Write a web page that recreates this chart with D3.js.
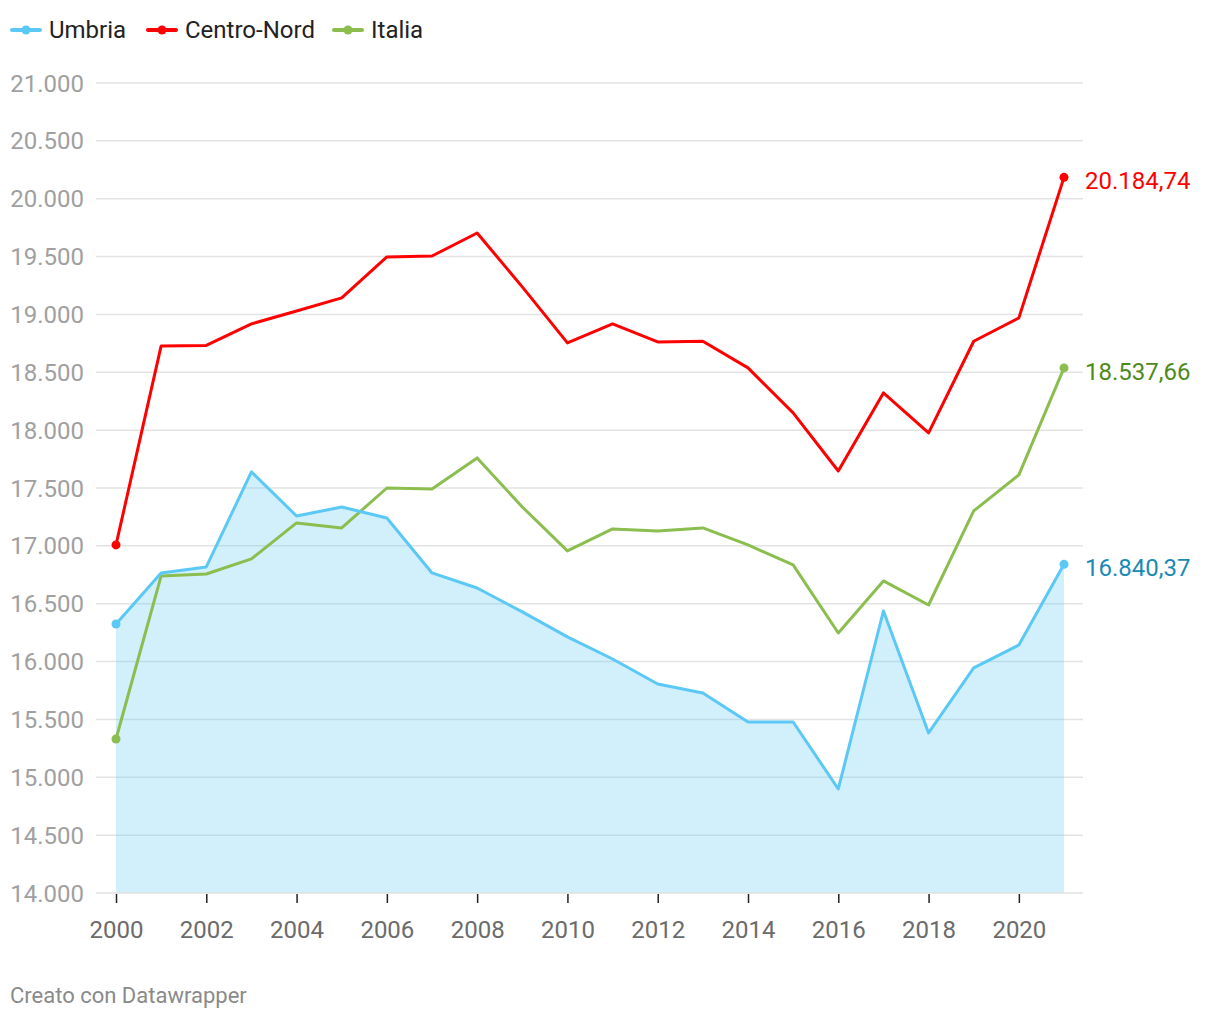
<!DOCTYPE html>
<html><head><meta charset="utf-8">
<script src="https://cdn.jsdelivr.net/npm/d3@7"></script>
<style>
html,body{margin:0;padding:0;background:#fff;}
svg{display:block;font-family:Roboto,"Noto Sans",sans-serif;}
</style></head>
<body>
<svg id="chart" width="1220" height="1020"></svg>
<script>
const years = d3.range(2000, 2022);
const umbria = [16325,16766,16818,17639,17258,17336,17241,16766,16636,16429,16213,16022,15806,15729,15478,15478,14899,16437,15383,15945,16143,16840.37];
const centroNord = [17008,18728,18732,18918,19030,19143,19497,19505,19704,19238,18754,18918,18762,18768,18538,18149,17647,18322,17976,18768,18970,20184.74];
const italia = [15331,16740,16757,16887,17198,17155,17500,17491,17760,17336,16956,17146,17129,17155,17008,16835,16247,16697,16489,17302,17613,18537.66];
const yTicks = [14000,14500,15000,15500,16000,16500,17000,17500,18000,18500,19000,19500,20000,20500,21000];
const xTicks = [2000,2002,2004,2006,2008,2010,2012,2014,2016,2018,2020];
const seriesNames = ["Umbria","Centro-Nord","Italia"];
const seriesColors = ["#5bc8f5","#ff0000","#8bbd4f"];
const labelColors = ["#1a8ab5","#ff0000","#4e8a1a"];
const seriesData = [umbria, centroNord, italia];

const svg = d3.select("#chart");
const x = d3.scaleLinear().domain([2000, 2021]).range([116, 1064]);
const y = d3.scaleLinear().domain([14000, 21000]).range([893, 83]);
const loc = d3.formatLocale({decimal:",", thousands:".", grouping:[3], currency:["","€"]});
const fmtY = loc.format(",");
const fmtLabel = loc.format(",.2f");

// gridlines
svg.append("g").selectAll("line").data(yTicks.filter(t => t !== 14000)).join("line")
  .attr("x1", 96).attr("x2", 1083)
  .attr("y1", d => y(d)).attr("y2", d => y(d))
  .attr("stroke", "#e3e3e3").attr("stroke-width", 1.5);

// y labels
svg.append("g").selectAll("text").data(yTicks).join("text")
  .attr("x", 84).attr("y", d => y(d) + 8.5)
  .attr("text-anchor", "end")
  .attr("font-size", 24).attr("fill", "#a0a0a0")
  .text(d => fmtY(d));

// area for Umbria
const area = d3.area().x((d, i) => x(years[i])).y0(y(14000)).y1(d => y(d));
svg.append("path").datum(umbria).attr("d", area).attr("fill", "#5bc8f5").attr("fill-opacity", 0.28);

// baseline
svg.append("line").attr("x1", 96).attr("x2", 1083).attr("y1", y(14000)).attr("y2", y(14000))
  .attr("stroke", "#e0e0e0").attr("stroke-width", 1.5);

// x axis
const xAxis = d3.axisBottom(x).tickValues(xTicks).tickFormat(d3.format("d")).tickSize(9).tickPadding(18);
const xg = svg.append("g").attr("transform", `translate(0,${y(14000) + 1})`).call(xAxis);
xg.select(".domain").remove();
xg.selectAll(".tick line").attr("stroke", "#222").attr("stroke-width", 1.5);
xg.selectAll(".tick text").attr("font-size", 24).attr("fill", "#6b6b6b").attr("font-family", "Roboto");

// lines
const line = d3.line().x((d, i) => x(years[i])).y(d => y(d));
[2, 0, 1].forEach(k => {
  svg.append("path").datum(seriesData[k]).attr("d", line)
    .attr("fill", "none").attr("stroke", seriesColors[k]).attr("stroke-width", 3)
    .attr("stroke-linejoin", "round");
});
// dots and labels
seriesData.forEach((s, k) => {
  [0, s.length - 1].forEach(i => {
    svg.append("circle").attr("cx", x(years[i])).attr("cy", y(s[i])).attr("r", 4.5).attr("fill", seriesColors[k]);
  });
  svg.append("text").attr("x", 1085).attr("y", y(s[s.length - 1]) + 12)
    .attr("font-size", 24).attr("fill", labelColors[k])
    .text(fmtLabel(s[s.length - 1]));
});

// legend
const legendX = [11, 147, 333];
seriesNames.forEach((n, k) => {
  const g = svg.append("g").attr("transform", `translate(${legendX[k]},30)`);
  g.append("line").attr("x1", 1).attr("x2", 29).attr("stroke", seriesColors[k]).attr("stroke-width", 4).attr("stroke-linecap", "round");
  g.append("circle").attr("cx", 15).attr("r", 4.5).attr("fill", seriesColors[k]);
  g.append("text").attr("x", 38).attr("y", 7.5).attr("font-size", 24).attr("fill", "#222").text(n);
});

// footer
svg.append("text").attr("x", 10).attr("y", 1003).attr("font-size", 22).attr("fill", "#8a8a8a").text("Creato con Datawrapper");
</script>
</body></html>
